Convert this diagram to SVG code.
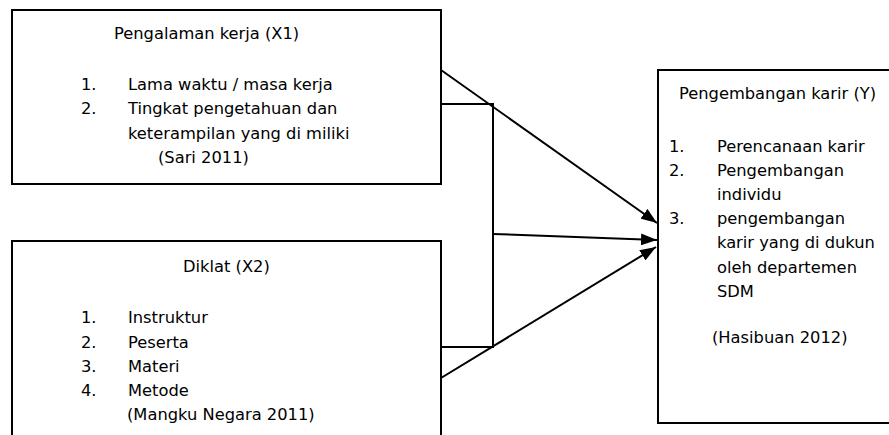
<svg xmlns="http://www.w3.org/2000/svg" width="889" height="435" viewBox="0 0 889 435">
  <defs>
    <marker id="arrow" viewBox="0 0 16 12" refX="16" refY="6" markerWidth="16" markerHeight="12" markerUnits="userSpaceOnUse" orient="auto">
      <path d="M0,0 L16,6 L0,12 Z" fill="#000"/>
    </marker>
  </defs>
  <style>
    .box { fill: #fff; stroke: #000; stroke-width: 2; }
    .txt { font-family: "DejaVu Sans", Verdana, sans-serif; font-size: 16.3px; fill: #000; }
    .ln { fill: none; stroke: #000; stroke-width: 2; }
    .arr { fill: none; stroke: #000; stroke-width: 2; marker-end: url(#arrow); }
  </style>

  <rect width="889" height="435" fill="#fff"/>

  <!-- Independent variable X1 -->
  <g id="node-x1">
    <rect class="box" x="12" y="10" width="429" height="174"/>
    <text class="txt" x="114" y="39">Pengalaman kerja (X1)</text>
    <text class="txt" x="81" y="90">1.</text>
    <text class="txt" x="128" y="90">Lama waktu / masa kerja</text>
    <text class="txt" x="81" y="114">2.</text>
    <text class="txt" x="128" y="114">Tingkat pengetahuan dan</text>
    <text class="txt" x="128" y="139">keterampilan yang di miliki</text>
    <text class="txt" x="158" y="163">(Sari 2011)</text>
  </g>

  <!-- Independent variable X2 -->
  <g id="node-x2">
    <rect class="box" x="12" y="241" width="429" height="210"/>
    <text class="txt" x="183" y="272">Diklat (X2)</text>
    <text class="txt" x="81" y="323">1.</text>
    <text class="txt" x="128" y="323">Instruktur</text>
    <text class="txt" x="81" y="348">2.</text>
    <text class="txt" x="128" y="348">Peserta</text>
    <text class="txt" x="81" y="372">3.</text>
    <text class="txt" x="128" y="372">Materi</text>
    <text class="txt" x="81" y="396">4.</text>
    <text class="txt" x="128" y="396">Metode</text>
    <text class="txt" x="127" y="420">(Mangku Negara 2011)</text>
  </g>

  <!-- Dependent variable Y -->
  <g id="node-y">
    <rect class="box" x="658" y="70" width="240" height="353"/>
    <text class="txt" x="679" y="99">Pengembangan karir (Y)</text>
    <text class="txt" x="669" y="152">1.</text>
    <text class="txt" x="717" y="152">Perencanaan karir</text>
    <text class="txt" x="669" y="176">2.</text>
    <text class="txt" x="717" y="176">Pengembangan</text>
    <text class="txt" x="717" y="200">individu</text>
    <text class="txt" x="669" y="224">3.</text>
    <text class="txt" x="717" y="224">pengembangan</text>
    <text class="txt" x="717" y="248">karir yang di dukun</text>
    <text class="txt" x="717" y="273">oleh departemen</text>
    <text class="txt" x="717" y="297">SDM</text>
    <text class="txt" x="712" y="343">(Hasibuan 2012)</text>
  </g>

  <!-- Connectors -->
  <g id="connectors">
    <path class="ln" d="M441,104 H493 V347 H441"/>
    <path class="arr" d="M441,70 L657,223"/>
    <path class="arr" d="M493,234 L657,240"/>
    <path class="arr" d="M441,378 L656,247"/>
  </g>
</svg>
